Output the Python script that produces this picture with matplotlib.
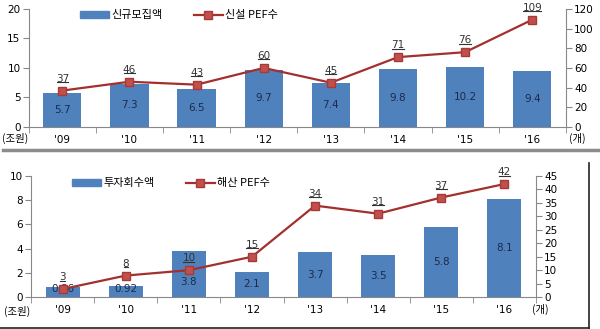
import matplotlib
matplotlib.use("Agg")
import matplotlib.pyplot as plt
from matplotlib.lines import Line2D
import numpy as np

plt.rcParams['font.family'] = ['DejaVu Sans', 'Noto Sans CJK KR']

years = ["'09", "'10", "'11", "'12", "'13", "'14", "'15", "'16"]

# top panel: new fundraising (trillion won) and newly established PEFs
new_amount = [5.7, 7.3, 6.5, 9.7, 7.4, 9.8, 10.2, 9.4]
new_pef = [37, 46, 43, 60, 45, 71, 76, 109]

# bottom panel: investment recovery (trillion won) and dissolved PEFs
recov_amount = [0.86, 0.92, 3.8, 2.1, 3.7, 3.5, 5.8, 8.1]
recov_labels = ["0.86", "0.92", "3.8", "2.1", "3.7", "3.5", "5.8", "8.1"]
dissolved_pef = [3, 8, 10, 15, 34, 31, 37, 42]

bar_c = '#4F81BD'
line_c = '#A3302D'
mark_c = '#C0504D'
ko = ['Noto Sans CJK KR', 'DejaVu Sans']

fig = plt.figure(figsize=(6.0, 3.29), dpi=100)

underlined = []


def panel(rect, bars, bar_lbls, line, ylim, y2lim, yt, y2t, bw, leg_names, leg_pos):
    ax = fig.add_axes(rect)
    x = np.arange(len(years))
    ratio = ylim[1] / y2lim[1]
    ax.bar(x, bars, width=bw, color=bar_c, zorder=1)
    for xi, v, s, m in zip(x, bars, bar_lbls, line):
        ly = max(v / 2, 0.07 * ylim[1])
        my = m * ratio
        # keep the label clear of the marker when the bar is tall enough
        if v / 2 > 1 and abs(ly - my) < 0.08 * ylim[1]:
            ly = my - 0.1 * ylim[1]
        ax.text(xi, ly, s, ha='center', va='center',
                fontsize=7.5, color='#1F2A4A', zorder=5)
    ax.set_xlim(-0.5, len(years) - 0.5)
    ax.set_ylim(*ylim)
    ax.set_yticks(yt)
    ax.set_xticks(x)
    ax.set_xticklabels(years, fontsize=7.5)
    ax.set_xticks(np.arange(-0.5, len(years), 1), minor=True)
    ax.tick_params(axis='x', which='major', length=0, pad=6)
    ax.tick_params(axis='x', which='minor', length=4, color='#888888')
    ax.tick_params(axis='y', length=4, labelsize=7.5, color='#888888', pad=2)
    for s in ['top', 'right']:
        ax.spines[s].set_visible(False)
    for s in ['left', 'bottom']:
        ax.spines[s].set_color('#888888')

    ax2 = ax.twinx()
    ax2.set_ylim(*y2lim)
    ax2.set_yticks(y2t)
    ax2.tick_params(axis='y', length=4, labelsize=7.5, color='#888888', pad=2)
    for s in ['top', 'left', 'bottom']:
        ax2.spines[s].set_visible(False)
    ax2.spines['right'].set_color('#888888')
    ax2.plot(x, line, color=line_c, lw=1.6, marker='s', ms=6,
             mfc=mark_c, mec='#A83A36', zorder=3)
    for xi, v in zip(x, line):
        t = ax2.annotate(str(v), (xi, v), xytext=(0, 5), textcoords='offset points',
                         ha='center', va='bottom', fontsize=7.5, color='#333333')
        underlined.append(t)

    h1 = plt.Rectangle((0, 0), 1, 1, color=bar_c)
    h2 = Line2D([], [], color=line_c, lw=1.6, marker='s', ms=6, mfc=mark_c, mec='#A83A36')
    fig.legend([h1, h2], leg_names, loc='center left', bbox_to_anchor=leg_pos,
               ncol=2, frameon=False, prop={'family': ko, 'size': 8},
               handlelength=2.6, handleheight=0.6, columnspacing=2.8, handletextpad=0.2)
    return ax, ax2


panel([0.048, 0.614, 0.895, 0.359], new_amount, [str(v) for v in new_amount], new_pef,
      (0, 20), (0, 120), [0, 5, 10, 15, 20], [0, 20, 40, 60, 80, 100, 120], 0.57,
      ['신규모집액', '신설 PEF수'], (0.117, 0.953))

panel([0.052, 0.097, 0.841, 0.368], recov_amount, recov_labels, dissolved_pef,
      (0, 10), (0, 45), [0, 2, 4, 6, 8, 10], list(range(0, 50, 5)), 0.54,
      ['투자회수액', '해산 PEF수'], (0.104, 0.443))

# unit labels
fig.text(0.003, 0.578, '(조원)', fontsize=7.5, family=ko, va='center')
fig.text(0.948, 0.580, '(개)', fontsize=7.5, family=ko, va='center')
fig.text(0.006, 0.052, '(조원)', fontsize=7.5, family=ko, va='center')
fig.text(0.886, 0.058, '(개)', fontsize=7.5, family=ko, va='center')

# separator and frame
fig.add_artist(Line2D([0.005, 1.0], [0.545, 0.545], color='#8C8C8C', lw=2.5))
fig.add_artist(Line2D([0.982, 0.982], [0.0, 0.505], color='#222222', lw=1.2))
fig.add_artist(Line2D([0.0, 0.982], [0.004, 0.004], color='#222222', lw=1.2))

# underline the line labels
fig.canvas.draw()
r = fig.canvas.get_renderer()
inv = fig.transFigure.inverted()
for t in underlined:
    bb = t.get_window_extent(r)
    (x0, y0), (x1, _) = inv.transform([(bb.x0 + 1, bb.y0 + 1.5), (bb.x1 - 1, bb.y0)])
    fig.add_artist(Line2D([x0, x1], [y0, y0], color='#333333', lw=0.8))

fig.savefig('out.png', dpi=100)
